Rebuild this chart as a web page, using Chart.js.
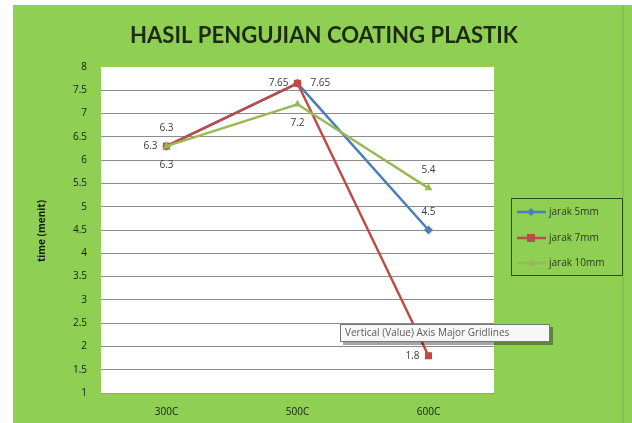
<!DOCTYPE html>
<html>
<head>
<meta charset="utf-8">
<script src="https://cdn.jsdelivr.net/npm/chart.js@4"></script>
<style>
html,body{margin:0;padding:0;background:#fff;}
#wrap{width:632px;height:423px;position:relative;}
</style>
</head>
<body>
<div id="wrap"><canvas id="c" width="632" height="423"></canvas></div>
<script>
const chartTitle = 'HASIL PENGUJIAN COATING PLASTIK';
const yAxisTitle = 'time (menit)';
const categories = ['300C', '500C', '600C'];
const seriesNames = ['jarak 5mm', 'jarak 7mm', 'jarak 10mm'];
const jarak5mm = [6.3, 7.65, 4.5];
const jarak7mm = [6.3, 7.65, 1.8];
const jarak10mm = [6.3, 7.2, 5.4];
const yMin = 1, yMax = 8, yStep = 0.5;
const hoverTipText = 'Vertical (Value) Axis Major Gridlines';

const seriesColors = ['#4a7ebb', '#be4b48', '#98b954'];
const pointStyles = ['rectRot', 'rect', 'triangle'];
const labelPlacement = [
  ['above', 'right', 'above'],
  ['left', 'left', 'left'],
  ['below', 'below', 'above']
];

const BG = '#8fcf53';

const bgPlugin = {
  id: 'bg',
  beforeDraw(chart) {
    const ctx = chart.ctx;
    ctx.save();
    ctx.fillStyle = '#ffffff';
    ctx.fillRect(0, 0, chart.width, chart.height);
    ctx.fillStyle = BG;
    ctx.fillRect(13, 5, chart.width - 13, chart.height - 5);
    ctx.fillStyle = 'rgba(0,0,0,0.06)';
    ctx.fillRect(622, 5, 2, chart.height - 5);
    const a = chart.chartArea;
    ctx.fillStyle = '#ffffff';
    ctx.fillRect(a.left, a.top, a.right - a.left, a.bottom - a.top);
    // title
    ctx.fillStyle = '#1d2a14';
    ctx.font = 'bold 23px Lato';
    ctx.textAlign = 'center';
    ctx.textBaseline = 'middle';
    ctx.fillText(chartTitle, 324, 36, 388);
    // y title
    ctx.save();
    ctx.translate(42, 231);
    ctx.rotate(-Math.PI / 2);
    ctx.font = 'bold 10px "Open Sans"';
    ctx.fillStyle = '#141c0e';
    ctx.fillText(yAxisTitle, 0, 0, 76);
    ctx.restore();
    ctx.restore();
  }
};

const overlayPlugin = {
  id: 'overlay',
  afterDatasetsDraw(chart) {
    const ctx = chart.ctx;
    ctx.save();
    ctx.font = '10px "Open Sans"';
    ctx.fillStyle = '#3a3a3a';
    chart.data.datasets.forEach((ds, di) => {
      const meta = chart.getDatasetMeta(di);
      meta.data.forEach((pt, i) => {
        const txt = String(ds.data[i]);
        const pos = labelPlacement[di][i];
        let x = pt.x, y = pt.y;
        ctx.textBaseline = 'middle';
        if (pos === 'above') { ctx.textAlign = 'center'; y -= 18; }
        else if (pos === 'below') { ctx.textAlign = 'center'; y += 19; }
        else if (pos === 'left') { ctx.textAlign = 'right'; x -= 9; }
        else { ctx.textAlign = 'left'; x += 13; }
        ctx.fillText(txt, x, y);
      });
    });
    // legend
    const lx = 511, ly = 198, lw = 111, lh = 77;
    ctx.strokeStyle = '#2f4a1c';
    ctx.lineWidth = 1;
    ctx.strokeRect(lx + 0.5, ly + 0.5, lw, lh);
    const rows = [212, 238, 263];
    seriesNames.forEach((n, k) => {
      const y = rows[k];
      ctx.strokeStyle = seriesColors[k];
      ctx.lineWidth = 2.5;
      ctx.beginPath(); ctx.moveTo(517, y); ctx.lineTo(546, y); ctx.stroke();
      ctx.fillStyle = seriesColors[k];
      const cx = 531;
      ctx.beginPath();
      if (pointStyles[k] === 'rect') ctx.rect(cx - 4, y - 4, 8, 8);
      else if (pointStyles[k] === 'rectRot') { ctx.moveTo(cx, y - 4); ctx.lineTo(cx + 4, y); ctx.lineTo(cx, y + 4); ctx.lineTo(cx - 4, y); ctx.closePath(); }
      else { ctx.moveTo(cx, y - 4); ctx.lineTo(cx + 4, y + 3); ctx.lineTo(cx - 4, y + 3); ctx.closePath(); }
      ctx.fill();
      ctx.fillStyle = '#2a3a1e';
      ctx.font = '10px "Open Sans"';
      ctx.textAlign = 'left';
      ctx.textBaseline = 'middle';
      ctx.fillText(n, 549, y, 70);
    });
    // hover tip box
    const tx = 340, ty = 324, tw = 210, th = 18;
    ctx.fillStyle = 'rgba(0,0,0,0.35)';
    ctx.fillRect(tx + 3, ty + 3, tw, th);
    ctx.fillStyle = '#f7f7f7';
    ctx.fillRect(tx, ty, tw, th);
    ctx.strokeStyle = '#767676';
    ctx.lineWidth = 1;
    ctx.strokeRect(tx + 0.5, ty + 0.5, tw - 1, th - 1);
    ctx.fillStyle = '#5a5a5a';
    ctx.font = '10px "Open Sans"';
    ctx.textAlign = 'left';
    ctx.textBaseline = 'middle';
    ctx.fillText(hoverTipText, tx + 5, ty + th / 2 + 0.5, 200);
    ctx.restore();
  }
};

const datasets = [jarak5mm, jarak7mm, jarak10mm].map((vals, k) => ({
  label: seriesNames[k],
  data: vals,
  order: 3 - k,
  borderColor: seriesColors[k],
  backgroundColor: seriesColors[k],
  borderWidth: 2.5,
  pointStyle: pointStyles[k],
  pointRadius: k === 1 ? 5 : 4.5,
  pointBorderWidth: 0,
  tension: 0,
  fill: false
}));

new Chart(document.getElementById('c'), {
  type: 'line',
  data: { labels: categories, datasets },
  options: {
    responsive: false,
    animation: false,
    events: [],
    layout: { padding: { left: 46, right: 138, top: 67, bottom: 0 } },
    plugins: { legend: { display: false }, tooltip: { enabled: false }, title: { display: false } },
    scales: {
      x: {
        offset: true,
        grid: { display: false, drawTicks: false },
        border: { display: true, color: '#9a9a9a', width: 1 },
        ticks: { color: '#141c0e', font: { family: 'Open Sans', size: 10 }, padding: 13 },
        afterFit(s) { s.height = 30; }
      },
      y: {
        min: yMin, max: yMax,
        grid: {
          color: (c) => (c.tick && c.tick.value === yMax) ? 'rgba(0,0,0,0)' : '#8c8c8c',
          lineWidth: 1,
          drawTicks: false
        },
        border: { display: false },
        ticks: {
          stepSize: yStep,
          color: '#141c0e',
          font: { family: 'Open Sans', size: 10 },
          padding: 14,
          callback: (v) => String(v)
        },
        afterFit(s) { s.width = 55; }
      }
    }
  },
  plugins: [bgPlugin, overlayPlugin]
});
</script>
</body>
</html>
